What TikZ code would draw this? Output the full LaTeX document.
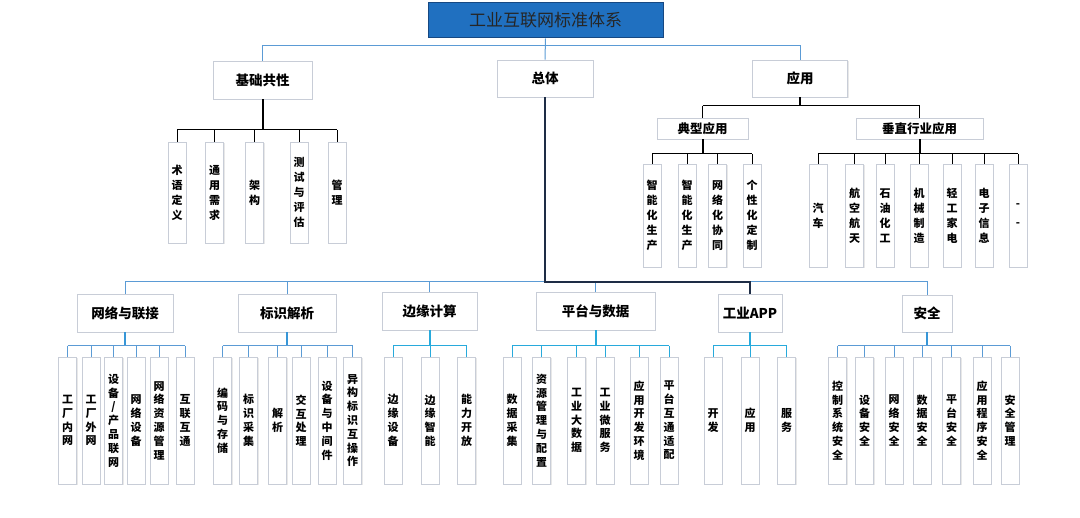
\documentclass[tikz,border=0pt]{standalone}
\usepackage{fontspec}
\setmainfont{Noto Sans CJK SC}
\usetikzlibrary{shadows}
\definecolor{bl}{RGB}{91,155,213}
\definecolor{bl2}{RGB}{55,150,215}
\definecolor{bl3}{RGB}{40,170,220}
\definecolor{dk}{RGB}{30,45,70}
\definecolor{tfill}{RGB}{32,112,192}
\definecolor{tdraw}{RGB}{22,72,130}
\definecolor{bdr}{RGB}{200,205,215}
\tikzset{
  box/.style={draw=bdr, line width=0.9pt, fill=white, inner sep=0pt, align=center,
    drop shadow={shadow xshift=1pt, shadow yshift=-1pt, opacity=0.18}},
  lone/.style={box, font=\fontsize{13.5}{15}\selectfont\bfseries},
  ltwo/.style={box, font=\fontsize{12.5}{14}\selectfont\bfseries},
  cb/.style={box, minimum width=18, minimum height=127, font=\fontsize{11}{13.8}\selectfont\bfseries},
  ub/.style={box, minimum width=18, minimum height=102, font=\fontsize{11}{15}\selectfont\bfseries},
  bline/.style={draw=bl, line width=1pt},
  cline/.style={draw=bl3, line width=1pt},
  bstem/.style={draw=bl2, line width=2pt},
  cstem/.style={draw=bl3, line width=2pt},
  kline/.style={draw=black, line width=1pt},
  kstem/.style={draw=black, line width=2pt},
  dline/.style={draw=dk, line width=1.8pt},
}
\begin{document}
\begin{tikzpicture}[x=1pt,y=-1pt]
\useasboundingbox (0,0) rectangle (1080,518);
% title
\node[draw=tdraw, fill=tfill, line width=1pt, minimum width=235, minimum height=35, inner sep=0pt,
  font=\fontsize{17}{19}\selectfont, text=black!85] (title) at (545.5,20.5) {工业互联网标准体系};
% level 1 top
\node[lone, minimum width=99, minimum height=38] (jc) at (262.5,80) {基础共性};
\node[lone, minimum width=96, minimum height=37] (zt) at (545,78.5) {总体};
\node[lone, minimum width=95, minimum height=37] (yy) at (800,78.5) {应用};
\draw[bline] (title.south) -- (zt.north);
\draw[bline] (jc.north) -- (jc.north |- 0,46) -- (yy.north |- 0,46) -- (yy.north);
% jichu children
\node[ub, minimum height=101] (j1) at (177,192.5) {术\\语\\定\\义};
\node[ub, minimum height=101] (j2) at (214.5,192.5) {通\\用\\需\\求};
\node[ub, minimum height=101] (j3) at (254.5,192.5) {架\\构};
\node[ub, minimum height=101] (j4) at (299,192.5) {测\\试\\与\\评\\估};
\node[ub, minimum height=101] (j5) at (337,192.5) {管\\理};
\draw[kstem] (jc.south) -- (jc.south |- 0,130);
\draw[kline] (j1.north |- 0,130) -- (j5.north |- 0,130);
\foreach \c in {j1,j2,j3,j4,j5} \draw[kline] (\c.north |- 0,130) -- (\c.north);
% yingyong
\node[ltwo, minimum width=91, minimum height=21] (dx) at (702.5,128.5) {典型应用};
\node[ltwo, minimum width=127, minimum height=21] (cz) at (919.5,128.5) {垂直行业应用};
\draw[kstem] (yy.south) -- (yy.south |- 0,106);
\draw[kline] (dx.north |- 0,106) -- (cz.north |- 0,106);
\draw[kline] (dx.north |- 0,106) -- (dx.north);
\draw[kline] (cz.north |- 0,106) -- (cz.north);
\node[ub, minimum height=103] (d1) at (652,215.5) {智\\能\\化\\生\\产};
\node[ub, minimum height=103] (d2) at (687,215.5) {智\\能\\化\\生\\产};
\node[ub, minimum height=103] (d3) at (717.5,215.5) {网\\络\\化\\协\\同};
\node[ub, minimum height=103] (d4) at (752,215.5) {个\\性\\化\\定\\制};
\draw[kstem] (dx.south) -- (dx.south |- 0,154);
\draw[kline] (d1.north |- 0,154) -- (d4.north |- 0,154);
\foreach \c in {d1,d2,d3,d4} \draw[kline] (\c.north |- 0,154) -- (\c.north);
\node[ub, minimum height=103] (v1) at (818,215.5) {汽\\车};
\node[ub, minimum height=103] (v2) at (854.5,215.5) {航\\空\\航\\天};
\node[ub, minimum height=103] (v3) at (885,215.5) {石\\油\\化\\工};
\node[ub, minimum height=103] (v4) at (919,215.5) {机\\械\\制\\造};
\node[ub, minimum height=103] (v5) at (952,215.5) {轻\\工\\家\\电};
\node[ub, minimum height=103] (v6) at (984,215.5) {电\\子\\信\\息};
\node[ub, minimum height=103] (v7) at (1018,215.5) {-\\[4pt]-};
\draw[kstem] (cz.south) -- (cz.south |- 0,154);
\draw[kline] (v1.north |- 0,154) -- (v7.north |- 0,154);
\foreach \c in {v1,v2,v3,v4,v5,v6,v7} \draw[kline] (\c.north |- 0,154) -- (\c.north);
% bottom level 1
\node[lone, minimum width=96, minimum height=38] (wl) at (125,313) {网络与联接};
\node[lone, minimum width=98, minimum height=38] (bs) at (287,313) {标识解析};
\node[lone, minimum width=95, minimum height=38] (by) at (429.5,311) {边缘计算};
\node[lone, minimum width=119, minimum height=38] (pt) at (595.5,311) {平台与数据};
\node[lone, minimum width=64, minimum height=38] (app) at (750,313) {工业APP};
\node[lone, minimum width=50, minimum height=37] (aq) at (927,313.5) {安全};
\draw[bline] (wl.north) -- (wl.north |- 0,282) -- (aq.north |- 0,282) -- (aq.north);
\foreach \c in {bs,by,pt} \draw[bline] (\c.north |- 0,282) -- (\c.north);
\draw[dline] (zt.south) -- (zt.south |- 0,282) -- (app.north |- 0,282) -- (app.north);
% wl children
\node[cb] (w1) at (67.5,420.5) {工\\厂\\内\\网};
\node[cb] (w2) at (91,420.5) {工\\厂\\外\\网};
\node[cb] (w3) at (113.5,420.5) {设\\备\\/\\产\\品\\联\\网};
\node[cb] (w4) at (136,420.5) {网\\络\\设\\备};
\node[cb] (w5) at (159,420.5) {网\\络\\资\\源\\管\\理};
\node[cb] (w6) at (185,420.5) {互\\联\\互\\通};
\draw[bstem] (wl.south) -- (wl.south |- 0,346);
\draw[bline] (w1.north |- 0,346) -- (w6.north |- 0,346);
\foreach \c in {w1,w2,w3,w4,w5,w6} \draw[bline] (\c.north |- 0,346) -- (\c.north);
% bs children
\node[cb] (b1) at (222.5,420.5) {编\\码\\与\\存\\储};
\node[cb] (b2) at (248.5,420.5) {标\\识\\采\\集};
\node[cb] (b3) at (277.5,420.5) {解\\析};
\node[cb] (b4) at (301,420.5) {交\\互\\处\\理};
\node[cb] (b5) at (327,420.5) {设\\备\\与\\中\\间\\件};
\node[cb] (b6) at (352.5,420.5) {异\\构\\标\\识\\互\\操\\作};
\draw[bstem] (bs.south) -- (bs.south |- 0,346);
\draw[bline] (b1.north |- 0,346) -- (b6.north |- 0,346);
\foreach \c in {b1,b2,b3,b4,b5,b6} \draw[bline] (\c.north |- 0,346) -- (\c.north);
% by children
\node[cb] (e1) at (393,420.5) {边\\缘\\设\\备};
\node[cb] (e2) at (430,420.5) {边\\缘\\智\\能};
\node[cb] (e3) at (466.5,420.5) {能\\力\\开\\放};
\draw[cstem] (by.south) -- (by.south |- 0,346);
\draw[cline] (e1.north |- 0,346) -- (e3.north |- 0,346);
\foreach \c in {e1,e2,e3} \draw[cline] (\c.north |- 0,346) -- (\c.north);
% pt children
\node[cb] (p1) at (512,420.5) {数\\据\\采\\集};
\node[cb] (p2) at (541.5,420.5) {资\\源\\管\\理\\与\\配\\置};
\node[cb] (p3) at (576.5,420.5) {工\\业\\大\\数\\据};
\node[cb] (p4) at (605,420.5) {工\\业\\微\\服\\务};
\node[cb] (p5) at (639,420.5) {应\\用\\开\\发\\环\\境};
\node[cb] (p6) at (669,420.5) {平\\台\\互\\通\\适\\配};
\draw[cstem] (pt.south) -- (pt.south |- 0,346);
\draw[cline] (p1.north |- 0,346) -- (p6.north |- 0,346);
\foreach \c in {p1,p2,p3,p4,p5,p6} \draw[cline] (\c.north |- 0,346) -- (\c.north);
% app children
\node[cb] (a1) at (713,420.5) {开\\发};
\node[cb] (a2) at (750,420.5) {应\\用};
\node[cb] (a3) at (786.5,420.5) {服\\务};
\draw[cstem] (app.south) -- (app.south |- 0,346);
\draw[cline] (a1.north |- 0,346) -- (a3.north |- 0,346);
\foreach \c in {a1,a2,a3} \draw[cline] (\c.north |- 0,346) -- (\c.north);
% aq children
\node[cb] (s1) at (837.5,420.5) {控\\制\\系\\统\\安\\全};
\node[cb] (s2) at (864.5,420.5) {设\\备\\安\\全};
\node[cb] (s3) at (894,420.5) {网\\络\\安\\全};
\node[cb] (s4) at (922,420.5) {数\\据\\安\\全};
\node[cb] (s5) at (951.5,420.5) {平\\台\\安\\全};
\node[cb] (s6) at (982,420.5) {应\\用\\程\\序\\安\\全};
\node[cb] (s7) at (1010,420.5) {安\\全\\管\\理};
\draw[bstem] (aq.south) -- (aq.south |- 0,346);
\draw[bline] (s1.north |- 0,346) -- (s7.north |- 0,346);
\foreach \c in {s1,s2,s3,s4,s5,s6,s7} \draw[bline] (\c.north |- 0,346) -- (\c.north);
\end{tikzpicture}
\end{document}
